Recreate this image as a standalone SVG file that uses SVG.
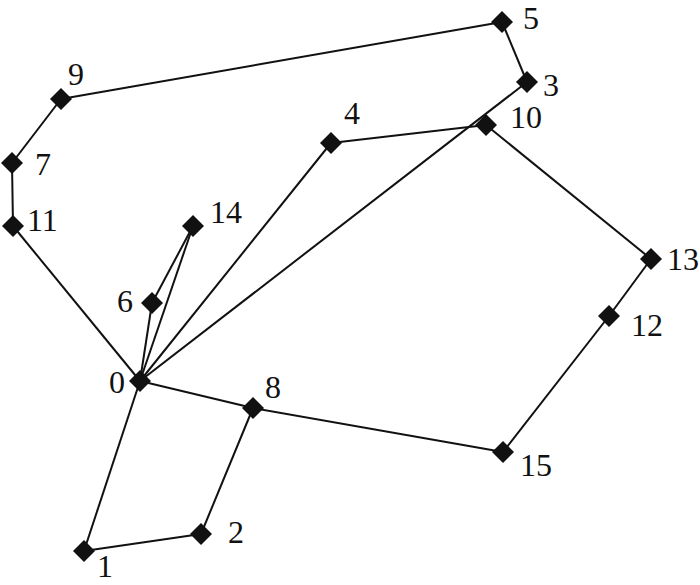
<svg xmlns="http://www.w3.org/2000/svg" width="700" height="585" viewBox="0 0 700 585">
<style>
.e{stroke:#111;stroke-width:2;fill:none}
.n{fill:#111}
.t{font-family:"Liberation Serif","Times New Roman",serif;font-size:32px;fill:#111}
</style>
<defs><path id="d" d="M0,-11L11,0L0,11L-11,0Z"/></defs>
<rect width="700" height="585" fill="#fff"/>
<g id="connectors" class="e">
<line x1="140" y1="381" x2="84" y2="551"/>
<line x1="84" y1="551" x2="201" y2="534"/>
<line x1="201" y1="534" x2="253" y2="408"/>
<line x1="140" y1="381" x2="253" y2="408"/>
<line x1="253" y1="408" x2="503" y2="452"/>
<line x1="503" y1="452" x2="609" y2="316"/>
<line x1="609" y1="316" x2="651" y2="259"/>
<line x1="651" y1="259" x2="486" y2="125"/>
<line x1="486" y1="125" x2="331" y2="143"/>
<line x1="331" y1="143" x2="140" y2="381"/>
<line x1="140" y1="381" x2="527" y2="82"/>
<line x1="527" y1="82" x2="502" y2="22"/>
<line x1="502" y1="22" x2="61" y2="99"/>
<line x1="61" y1="99" x2="12" y2="163"/>
<line x1="12" y1="163" x2="13" y2="226"/>
<line x1="13" y1="226" x2="140" y2="381"/>
<line x1="140" y1="381" x2="152" y2="303"/>
<line x1="152" y1="303" x2="193" y2="226"/>
<line x1="193" y1="226" x2="140" y2="381"/>
</g>
<g id="n0"><use href="#d" class="n" x="140" y="381"/><text class="t" x="109" y="393">0</text></g>
<g id="n1"><use href="#d" class="n" x="84" y="551"/><text class="t" x="97" y="577">1</text></g>
<g id="n2"><use href="#d" class="n" x="201" y="534"/><text class="t" x="228" y="543">2</text></g>
<g id="n3"><use href="#d" class="n" x="527" y="82"/><text class="t" x="543" y="96">3</text></g>
<g id="n4"><use href="#d" class="n" x="331" y="143"/><text class="t" x="344" y="124">4</text></g>
<g id="n5"><use href="#d" class="n" x="502" y="22"/><text class="t" x="523" y="29">5</text></g>
<g id="n6"><use href="#d" class="n" x="152" y="303"/><text class="t" x="117" y="312">6</text></g>
<g id="n7"><use href="#d" class="n" x="12" y="163"/><text class="t" x="35" y="175">7</text></g>
<g id="n8"><use href="#d" class="n" x="253" y="408"/><text class="t" x="265" y="398">8</text></g>
<g id="n9"><use href="#d" class="n" x="61" y="99"/><text class="t" x="68" y="85">9</text></g>
<g id="n10"><use href="#d" class="n" x="486" y="125"/><text class="t" x="510" y="128">10</text></g>
<g id="n11"><use href="#d" class="n" x="13" y="226"/><text class="t" x="27" y="231">11</text></g>
<g id="n12"><use href="#d" class="n" x="609" y="316"/><text class="t" x="631" y="336">12</text></g>
<g id="n13"><use href="#d" class="n" x="651" y="259"/><text class="t" x="667" y="270">13</text></g>
<g id="n14"><use href="#d" class="n" x="193" y="226"/><text class="t" x="210" y="223">14</text></g>
<g id="n15"><use href="#d" class="n" x="503" y="452"/><text class="t" x="520" y="476">15</text></g>
</svg>
